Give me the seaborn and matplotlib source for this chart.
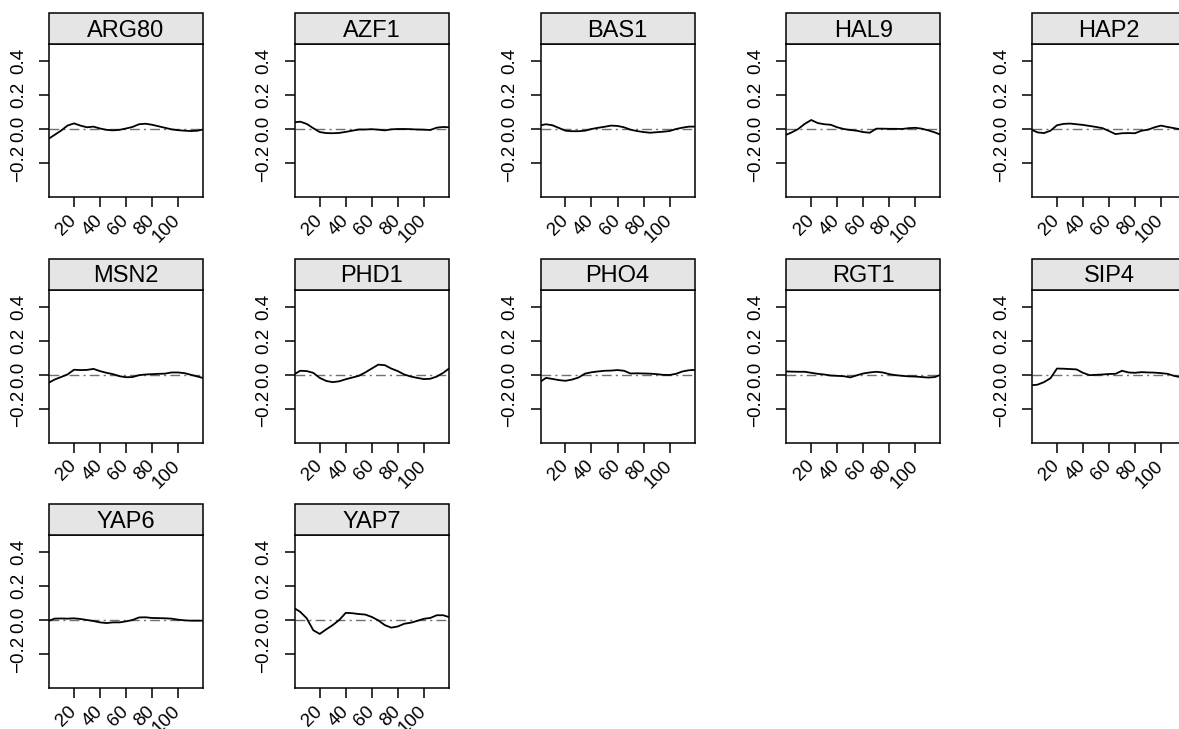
import numpy as np
import pandas as pd
import matplotlib
matplotlib.use("Agg")
import matplotlib.pyplot as plt
import seaborn as sns
from matplotlib.patches import Rectangle

# ---------------- data ----------------
positions = [1, 5, 10, 15, 20, 25, 30, 35, 40, 45, 50, 55, 60, 65, 70, 75, 80, 85, 90, 95, 100, 105, 110, 115, 119]
factors = ["ARG80", "AZF1", "BAS1", "HAL9", "HAP2", "MSN2", "PHD1", "PHO4", "RGT1", "SIP4", "YAP6", "YAP7"]

arg80 = [-0.055, -0.035, -0.01, 0.02, 0.033, 0.02, 0.01, 0.014, 0.003, -0.005, -0.008, -0.005, 0.003,
         0.012, 0.028, 0.031, 0.025, 0.016, 0.007, -0.002, -0.007, -0.01, -0.012, -0.01, -0.003]
azf1 = [0.04, 0.043, 0.03, 0.005, -0.018, -0.024, -0.025, -0.023, -0.017, -0.01, -0.003, -0.003, -0.001,
        -0.004, -0.008, -0.002, 0.0, 0.0, -0.001, -0.003, -0.004, -0.006, 0.008, 0.012, 0.01]
bas1 = [0.022, 0.028, 0.022, 0.006, -0.01, -0.013, -0.013, -0.01, 0.0, 0.007, 0.013, 0.02, 0.018,
        0.01, -0.004, -0.012, -0.018, -0.022, -0.019, -0.016, -0.012, 0.0, 0.008, 0.014, 0.014]
hal9 = [-0.033, -0.02, 0.0, 0.03, 0.053, 0.035, 0.028, 0.025, 0.01, 0.0, -0.006, -0.01, -0.018,
        -0.022, 0.002, 0.002, 0.001, 0.001, 0.0, 0.005, 0.007, 0.002, -0.008, -0.02, -0.032]
hap2 = [-0.006, -0.02, -0.024, -0.01, 0.022, 0.03, 0.032, 0.028, 0.024, 0.018, 0.012, 0.005, -0.012,
        -0.03, -0.025, -0.024, -0.025, -0.01, -0.004, 0.01, 0.02, 0.012, 0.005, -0.002, -0.01]
msn2 = [-0.047, -0.03, -0.015, 0.0, 0.028, 0.026, 0.027, 0.033, 0.02, 0.01, 0.002, -0.01, -0.016,
        -0.015, -0.004, 0.0, 0.002, 0.004, 0.005, 0.012, 0.012, 0.008, -0.002, -0.012, -0.02]
phd1 = [0.004, 0.022, 0.02, 0.01, -0.02, -0.038, -0.045, -0.04, -0.028, -0.018, -0.008, 0.012, 0.035,
        0.058, 0.055, 0.035, 0.02, 0.0, -0.012, -0.02, -0.027, -0.025, -0.012, 0.01, 0.033]
pho4 = [-0.041, -0.02, -0.026, -0.033, -0.037, -0.03, -0.018, 0.005, 0.013, 0.018, 0.022, 0.023, 0.026,
        0.022, 0.006, 0.007, 0.006, 0.005, 0.002, -0.002, -0.003, 0.004, 0.018, 0.025, 0.027]
rgt1 = [0.018, 0.017, 0.016, 0.016, 0.01, 0.004, 0.0, -0.006, -0.008, -0.01, -0.017, -0.005, 0.006,
        0.012, 0.016, 0.012, 0.002, -0.004, -0.008, -0.011, -0.012, -0.015, -0.018, -0.015, -0.003]
sip4 = [-0.063, -0.06, -0.045, -0.022, 0.035, 0.034, 0.032, 0.03, 0.01, -0.004, -0.002, 0.0, 0.003,
        0.004, 0.022, 0.012, 0.01, 0.014, 0.012, 0.011, 0.008, 0.004, -0.008, -0.016, -0.02]
yap6 = [-0.004, 0.008, 0.009, 0.008, 0.01, 0.006, 0.0, -0.006, -0.014, -0.018, -0.014, -0.014, -0.008,
        0.0, 0.015, 0.016, 0.012, 0.011, 0.01, 0.008, 0.002, -0.002, -0.004, -0.004, -0.004]
yap7 = [0.067, 0.048, 0.01, -0.06, -0.082, -0.055, -0.03, 0.0, 0.042, 0.04, 0.035, 0.032, 0.018,
        -0.002, -0.03, -0.045, -0.038, -0.022, -0.016, -0.005, 0.007, 0.012, 0.028, 0.028, 0.018]

series = [arg80, azf1, bas1, hal9, hap2, msn2, phd1, pho4, rgt1, sip4, yap6, yap7]

x_ticks = [20, 40, 60, 80, 100]
x_ticklabels = ["20", "40", "60", "80", "100"]
y_ticks = [-0.2, 0.0, 0.2, 0.4]
y_ticklabels = ["\u22120.2", "0.0", "0.2", "0.4"]

df = pd.DataFrame({
    "factor": np.repeat(factors, len(positions)),
    "position": positions * len(factors),
    "value": np.concatenate(series),
})

# ---------------- plot ----------------
sns.set_style("white")
plt.rcParams["font.family"] = ["Liberation Sans", "DejaVu Sans"]

W, H = 1179, 729
fig = plt.figure(figsize=(W / 100, H / 100), dpi=100)
fig.patch.set_facecolor("white")

ax_w, ax_h = 154, 153
strip_h = 31
left0, top0 = 49, 44
dx, dy = 245.75, 245.5

for i, name in enumerate(factors):
    r, c = divmod(i, 5)
    lpx = left0 + c * dx
    tpx = top0 + r * dy
    ax = fig.add_axes([lpx / W, (H - tpx - ax_h) / H, ax_w / W, ax_h / H])
    sub = df[df["factor"] == name]
    ax.axhline(0, color="#707070", lw=1.0, linestyle=(0, (7, 3, 1.5, 3)), zorder=1)
    sns.lineplot(data=sub, x="position", y="value", ax=ax, color="black", lw=1.3,
                 estimator=None, sort=False, zorder=2)
    ax.set_xlim(0.8, 119.2)
    ax.set_ylim(-0.4, 0.5)
    ax.set_xlabel("")
    ax.set_ylabel("")
    ax.set_xticks(x_ticks)
    ax.set_xticklabels(x_ticklabels)
    ax.set_yticks(y_ticks)
    ax.set_yticklabels(y_ticklabels)
    for s in ax.spines.values():
        s.set_visible(True)
        s.set_color("black")
        s.set_linewidth(1.1)
    ax.tick_params(axis="both", which="major", length=7, width=1.1, color="black",
                   direction="out", labelsize=13.5, labelcolor="black")
    ax.tick_params(axis="y", pad=9, left=True)
    ax.tick_params(axis="x", pad=8, bottom=True)
    for lab in ax.get_yticklabels():
        lab.set_rotation(90)
        lab.set_va("center")
        lab.set_ha("right")
    for lab in ax.get_xticklabels():
        lab.set_rotation(45)
        lab.set_ha("right")
        lab.set_va("center")
        lab.set_rotation_mode("anchor")
    ax.add_patch(Rectangle((0, 1), 1, strip_h / ax_h, transform=ax.transAxes, clip_on=False,
                           facecolor="#e5e5e5", edgecolor="black", lw=1.1, zorder=3))
    ax.text(0.5, 1 + 7 / ax_h, name, transform=ax.transAxes, ha="center", va="baseline",
            fontsize=17, color="black", zorder=4)

fig.savefig("out.png", dpi=100, facecolor="white")
